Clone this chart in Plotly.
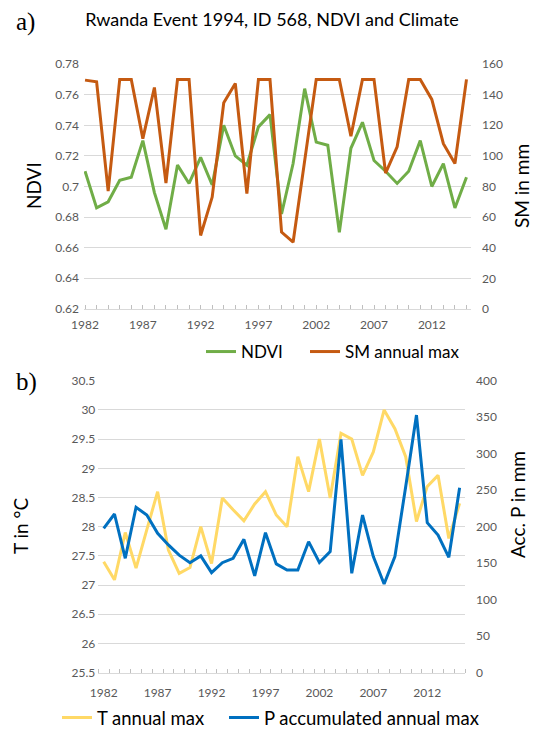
import plotly.graph_objects as go

years = list(range(1982, 2016))
ndvi = [0.710, 0.686, 0.690, 0.704, 0.706, 0.730, 0.696, 0.672, 0.714, 0.702,
        0.719, 0.701, 0.740, 0.720, 0.714, 0.739, 0.747, 0.682, 0.715, 0.764,
        0.729, 0.727, 0.670, 0.725, 0.742, 0.717, 0.710, 0.702, 0.710, 0.730,
        0.700, 0.715, 0.686, 0.706]
sm_max = [149.5, 148.4, 77, 150, 150, 111.3, 144.7, 82.3, 150, 150,
          48, 73.1, 134.7, 147.3, 75.3, 150, 150, 50.2, 43.6, 96,
          150, 150, 150, 112.8, 150, 150, 88.8, 105.9, 150, 150,
          136.9, 108, 95, 150]
t_max = [27.40, 27.09, 27.9, 27.29, 27.95, 28.6, 27.6, 27.2, 27.3, 28.0,
         27.37, 28.49, 28.29, 28.1, 28.39, 28.6, 28.2, 28.0, 29.2, 28.6,
         29.5, 28.49, 29.6, 29.5, 28.88, 29.28, 30.0, 29.68, 29.2, 28.09,
         28.69, 28.88, 27.8, 28.4]
p_acc = [197.8, 217.4, 156.7, 226.6, 216, 191, 175, 161, 150.7, 160,
         137, 150.7, 156.7, 182.7, 132.5, 191.8, 149, 140.7, 140.6, 179.5,
         151, 165.8, 319.6, 136.1, 216, 159, 121.5, 159, 254.8, 353,
         205.5, 188.6, 158, 253.4]
year_ticks = [1982, 1987, 1992, 1997, 2002, 2007, 2012]

# page has an 8px body margin; size the figure so it fills the 540x734 window
OFF = 8
W, H = 540 - OFF, 734 - OFF
FONT = "Lato"
TICKC = "#595959"
GRID = "#D9D9D9"

def px(x):
    return (x - OFF) / W

def py(y):
    return 1 - (y - OFF) / H

fig = go.Figure()
fig.add_trace(go.Scatter(x=years, y=ndvi, name="NDVI", mode="lines", showlegend=True,
                         line=dict(color="#70AD47", width=3),
                         xaxis="x", yaxis="y", legend="legend"))
fig.add_trace(go.Scatter(x=years, y=sm_max, name="SM annual max", mode="lines", showlegend=True,
                         line=dict(color="#C55A11", width=3),
                         xaxis="x", yaxis="y2", legend="legend2"))
fig.add_trace(go.Scatter(x=years, y=t_max, name="T annual max", mode="lines", showlegend=True,
                         line=dict(color="#FFD966", width=3),
                         xaxis="x2", yaxis="y3", legend="legend3"))
fig.add_trace(go.Scatter(x=years, y=p_acc, name="P accumulated annual max", mode="lines",
                         showlegend=True,
                         line=dict(color="#0070C0", width=3),
                         xaxis="x2", yaxis="y4", legend="legend4"))

tickfont = dict(family=FONT, size=12, color=TICKC)
titlefont = dict(family=FONT, size=19, color="#000000")

def side_title(text, x, y):
    return dict(text=text, x=px(x), y=py(y), xref="paper", yref="paper",
                xanchor="center", yanchor="middle", textangle=-90,
                showarrow=False, font=titlefont)

def legend_at(x, y, size):
    return dict(orientation="h", x=px(x), xanchor="left", y=py(y), yanchor="middle",
                font=dict(family=FONT, size=size, color="#000000"),
                bgcolor="rgba(0,0,0,0)", visible=True)

fig.update_layout(
    template="none",
    showlegend=True,
    width=W, height=H, autosize=False,
    margin=dict(l=0, r=0, t=0, b=0, pad=0, autoexpand=False),
    paper_bgcolor="white", plot_bgcolor="white",
    font=dict(family=FONT),
    title=dict(text="Rwanda Event 1994, ID 568, NDVI and Climate",
               x=px(272), xanchor="center", y=py(20), yanchor="middle",
               font=dict(family=FONT, size=18, color="#000000")),
    xaxis=dict(domain=[px(84), px(471)], range=[1981.91, 2015.39], anchor="y",
               automargin=False, ticklabelstandoff=5,
               tickvals=year_ticks, ticks="inside", ticklen=4, tickcolor="#BFBFBF",
               minor=dict(tick0=1982, dtick=1, ticks="inside", ticklen=4, tickcolor="#BFBFBF"),
               showgrid=False, zeroline=False, showline=True, linecolor=GRID, linewidth=1,
               tickfont=tickfont),
    yaxis=dict(domain=[py(309), py(64)], range=[0.6199, 0.7801], tick0=0.62, dtick=0.02,
               automargin=False, ticks="", ticklabelstandoff=4,
               gridcolor=GRID, gridwidth=1, zeroline=False, showline=False,
               tickfont=tickfont, anchor="x"),
    yaxis2=dict(overlaying="y", side="right", range=[-0.05, 160.05], tick0=0, dtick=20,
                automargin=False, ticks="", ticklabelstandoff=10,
                showgrid=False, zeroline=False, showline=False,
                tickfont=tickfont, anchor="x"),
    xaxis2=dict(domain=[px(98.3), px(465)], range=[1981.5, 2015.5], anchor="y3",
                automargin=False, ticklabelstandoff=9,
                tickvals=year_ticks, ticks="",
                minor=dict(tick0=1981.5, dtick=1, ticks="inside", ticklen=4, tickcolor="#BFBFBF"),
                showgrid=False, zeroline=False, showline=True, linecolor=GRID, linewidth=1,
                tickfont=tickfont),
    yaxis3=dict(domain=[py(672.7), py(380.7)], range=[25.499, 30.501], tick0=25.5, dtick=0.5,
                automargin=False, ticks="", ticklabelstandoff=2,
                gridcolor=GRID, gridwidth=1, zeroline=False, showline=False,
                tickfont=tickfont, anchor="x2"),
    yaxis4=dict(overlaying="y3", side="right", range=[-0.1, 400.1], tick0=0, dtick=50,
                automargin=False, ticks="", ticklabelstandoff=10,
                showgrid=False, zeroline=False, showline=False,
                tickfont=tickfont, anchor="x2"),
    legend=legend_at(201, 352, 17),
    legend2=legend_at(305, 352, 17),
    legend3=legend_at(57, 718, 18.5),
    legend4=legend_at(224, 718, 18.5),
    annotations=[
        dict(text="a)", x=px(14), y=py(22), xref="paper", yref="paper", xanchor="left",
             yanchor="middle", showarrow=False,
             font=dict(family="Liberation Serif", size=25, color="#000000")),
        dict(text="b)", x=px(14), y=py(382), xref="paper", yref="paper", xanchor="left",
             yanchor="middle", showarrow=False,
             font=dict(family="Liberation Serif", size=25, color="#000000")),
        side_title("NDVI", 33, 186),
        side_title("SM in mm", 521, 186),
        side_title("T in °C", 20, 526),
        side_title("Acc. P in mm", 517, 505),
    ],
)

fig.write_html("out.html")
